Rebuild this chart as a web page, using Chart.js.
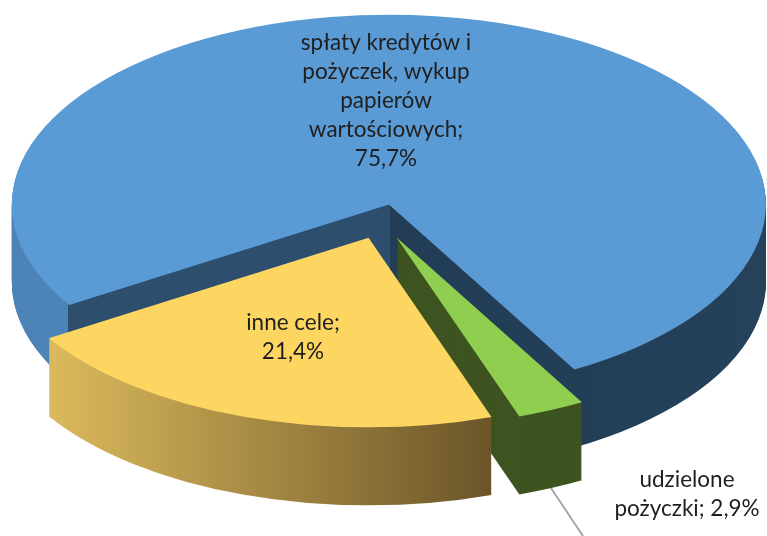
<!DOCTYPE html>
<html>
<head>
<meta charset="UTF-8">
<title>Wykres</title>
<script src="https://cdn.jsdelivr.net/npm/chart.js"></script>
<style type="text/css">
	html, body { margin: 0; padding: 0; background: #ffffff; overflow: hidden; }
	#myChart { display: block; }
</style>
</head>
<body>
<canvas id="myChart" width="767" height="536"></canvas>
<script>
// dane
var categories = ['spłaty kredytów i pożyczek, wykup papierów wartościowych', 'udzielone pożyczki', 'inne cele'];
var values = [75.7, 2.9, 21.4];

// podzial etykiet na linie
var labelLines = [
	['spłaty kredytów i', 'pożyczek, wykup', 'papierów', 'wartościowych;'],
	['udzielone', 'pożyczki;'],
	['inne cele;']
];
var valueInline = [false, true, false];

// wyglad
var topColors = ['#5b9bd5', '#8fce4e', '#fdd662'];
var explode = [32, 37.4, 37.4];   // odsuniecie wycinka
var flatten = 0.503;              // splaszczenie elipsy
var depth = 78;                   // wysokosc walca
var labelX = [386, 687, 293];
var labelY = [50, 487, 330];
var lineHeight = 29;

function wallColor(ctx, i, dx) {
	var g;
	if (i == 0) {
		g = ctx.createLinearGradient(0 - dx, 0, 767 - dx, 0);
		g.addColorStop(0, '#4d84b8');
		g.addColorStop(0.0885, '#4d84b8');
		g.addColorStop(0.0890, '#2d4e6d');
		g.addColorStop(0.508, '#2d4e6d');
		g.addColorStop(0.509, '#223d55');
		g.addColorStop(0.75, '#233f57');
		g.addColorStop(1, '#26425a');
	} else if (i == 1) {
		g = '#3d5420';
	} else {
		g = ctx.createLinearGradient(47 - dx, 0, 492 - dx, 0);
		g.addColorStop(0, '#dcba5c');
		g.addColorStop(1, '#6b5529');
	}
	return g;
}

var pie3d = {
	id: 'pie3d',
	beforeDatasetDraw: function(chart, args) {
		var ctx = chart.ctx;
		var arcs = args.meta.data;
		var cy = arcs[0].y;

		// linia odniesienia do etykiety
		ctx.save();
		ctx.strokeStyle = '#a6a6a6';
		ctx.lineWidth = 2;
		ctx.beginPath();
		ctx.moveTo(551, 488);
		ctx.lineTo(583, 536);
		ctx.stroke();
		ctx.restore();

		arcs.forEach(function(arc, i) {
			var mid = (arc.startAngle + arc.endAngle) / 2;
			var dx = Math.cos(mid) * explode[i];
			var dy = Math.sin(mid) * explode[i];
			var base = arc.options;

			var drawAt = function(shift, color) {
				ctx.save();
				ctx.translate(0, shift + cy);
				ctx.scale(1, flatten);
				ctx.translate(dx, dy - cy);
				arc.options = Object.assign({}, base, { backgroundColor: color });
				arc.draw(ctx);
				ctx.restore();
			};

			var wall = wallColor(ctx, i, dx);
			for (var d = depth; d > 0; d--) {
				drawAt(d, wall);
			}
			drawAt(0, topColors[i]);
			arc.options = base;
		});
		return false;
	},
	afterDatasetsDraw: function(chart) {
		var ctx = chart.ctx;
		ctx.save();
		ctx.font = '22.5px Lato';
		ctx.fillStyle = '#1f1f1f';
		ctx.textAlign = 'center';
		ctx.textBaseline = 'alphabetic';
		values.forEach(function(v, i) {
			var txt = v.toFixed(1).replace('.', ',') + '%';
			var lines = labelLines[i].slice();
			if (valueInline[i]) {
				lines[lines.length - 1] += ' ' + txt;
			} else {
				lines.push(txt);
			}
			lines.forEach(function(line, n) {
				ctx.fillText(line, labelX[i], labelY[i] + n * lineHeight);
			});
		});
		ctx.restore();
	}
};

var myChart = new Chart(document.getElementById('myChart').getContext('2d'), {
	type: 'pie',
	data: {
		labels: categories,
		datasets: [{
			data: values,
			backgroundColor: topColors,
			borderWidth: 0,
			clip: false
		}]
	},
	options: {
		responsive: false,
		animation: false,
		events: [],
		rotation: 238,
		radius: 377,
		layout: { padding: { right: 5, bottom: 96 } },
		plugins: {
			legend: { display: false },
			tooltip: { enabled: false }
		}
	},
	plugins: [pie3d]
});
</script>
</body>
</html>
